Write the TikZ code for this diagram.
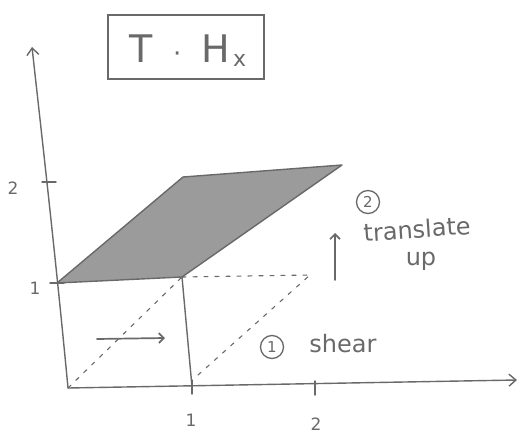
\documentclass[tikz,border=0pt]{standalone}
\usepackage{fontspec}
\setmainfont{DejaVu Sans}
\usetikzlibrary{arrows.meta,calc}
\definecolor{ink}{RGB}{105,105,105}
\definecolor{shade}{RGB}{155,155,155}
\tikzset{
  pen/.style={draw=ink, line width=1.4pt, line cap=round, line join=round},
  axis/.style={pen, -{Straight Barb[length=7pt,width=12pt]}},
  tickmark/.style={pen},
  dotline/.style={pen, line width=1.1pt, dash pattern=on 4pt off 7pt},
  lbl/.style={text=ink, font=\fontsize{17}{17}\selectfont, inner sep=0pt},
  note/.style={text=ink, font=\fontsize{24}{24}\selectfont, inner sep=0pt},
  circnum/.style={draw=ink, line width=1.3pt, circle, text=ink, inner sep=0pt, minimum size=23pt, font=\fontsize{15}{15}\selectfont},
}
\begin{document}
\begin{tikzpicture}[x=1pt,y=-1pt]
\useasboundingbox (0,0) rectangle (519,433);
% key points
\coordinate (O) at (68,388);
\coordinate (xend) at (517,380);
\coordinate (yend) at (32,47);
\coordinate (x1) at (192,387);
\coordinate (x2) at (315,388);
\coordinate (y1) at (57,283);
\coordinate (y2) at (49,182);
\coordinate (p11) at (182,277);
\coordinate (p21) at (310,275);
\coordinate (ptop) at (342,165);
\coordinate (pleft) at (183,177);
\coordinate (d0) at (198,375);
% shaded parallelogram
\filldraw[pen, fill=shade] (y1) -- (p11) -- (ptop) -- (pleft) -- cycle;
% axes
\draw[axis] (O) -- (xend);
\draw[axis] (O) .. controls (55,250) and (40,120) .. (yend);
% ticks
\draw[tickmark] ($(x1)+(0,-7)$) -- ($(x1)+(0,7)$);
\draw[tickmark] ($(x2)+(0,-7)$) -- ($(x2)+(0,7)$);
\draw[tickmark] ($(y2)+(-7,0)$) -- ($(y2)+(7,0)$);
\draw[tickmark] ($(y1)+(-7,0)$) -- ($(y1)+(7,0)$);
% tick labels
\node[lbl] (lx1) at (191,420) {1};
\node[lbl] (lx2) at (316,424) {2};
\node[lbl] (ly1) at (35,288) {1};
\node[lbl] (ly2) at (13,188) {2};
% unit square right side
\draw[pen] (p11) -- (x1);
% dashed sheared square
\draw[dotline] (O) -- (p11);
\draw[dotline] (p11) -- (p21);
\draw[dotline] (d0) -- (p21);
% shear arrow
\coordinate (sa) at (97,339);
\coordinate (sb) at (165,338);
\draw[pen, line width=1.7pt, -{Straight Barb[length=5pt,width=10pt]}] (sa) -- (sb);
% up arrow
\coordinate (ua) at (335,280);
\coordinate (ub) at (335,233);
\draw[pen, line width=1.7pt, -{Straight Barb[length=5pt,width=10pt]}] (ua) -- (ub);
% title box
\node[draw=ink, line width=1.4pt, minimum width=156pt, minimum height=64pt, inner sep=0pt] (title) at (186,47) {};
\node[text=ink, font=\fontsize{38}{38}\selectfont, inner sep=0pt, anchor=base] (titletext) at (188,63)
      {T\hspace{20pt}{\fontsize{26}{26}\selectfont ·}\hspace{20pt}H\hspace{3pt}\raisebox{-4pt}{\fontsize{22}{22}\selectfont x}};
% annotations
\node[circnum] (c2) at (368,202) {2};
\node[note, rotate=4] (tr) at (417,229) {translate};
\node[note] (up) at (421,261) {up};
\node[circnum] (c1) at (272,347) {1};
\node[note] (sh) at (343,344) {shear};
\end{tikzpicture}
\end{document}
